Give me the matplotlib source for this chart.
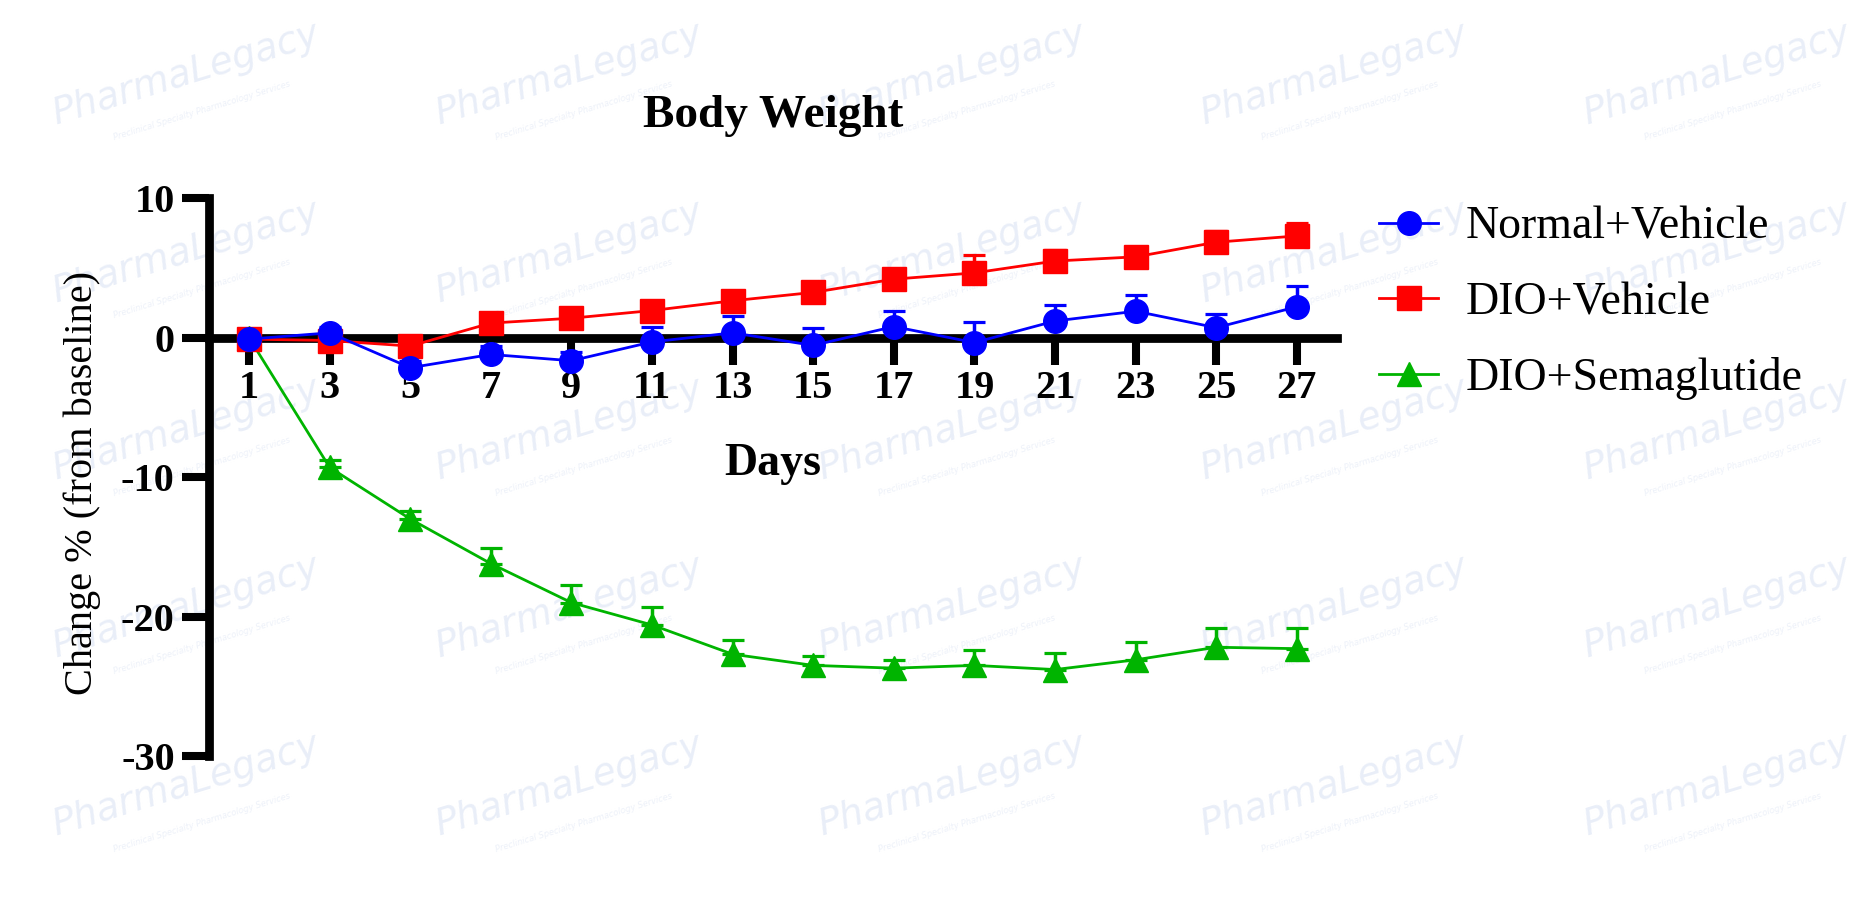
import numpy as np
import matplotlib
matplotlib.use("Agg")
import matplotlib.pyplot as plt
from matplotlib.lines import Line2D

plt.rcParams['font.family'] = ['Liberation Serif', 'DejaVu Serif']
plt.rcParams['axes.unicode_minus'] = False

days = [1, 3, 5, 7, 9, 11, 13, 15, 17, 19, 21, 23, 25, 27]

normal_mean = [-0.1, 0.35, -2.15, -1.2, -1.65, -0.3, 0.35, -0.55, 0.8, -0.35, 1.2, 1.9, 0.72, 2.22]
normal_sem = [0.3, 0.4, 0.5, 0.6, 0.6, 1.1, 1.2, 1.25, 1.1, 1.5, 1.15, 1.15, 1.0, 1.5]

dio_mean = [-0.1, -0.2, -0.6, 1.05, 1.4, 1.95, 2.65, 3.25, 4.2, 4.65, 5.5, 5.8, 6.85, 7.3]
dio_sem = [0.3, 0.3, 0.4, 0.5, 0.5, 0.6, 0.6, 0.6, 0.7, 1.25, 0.8, 0.7, 0.8, 0.9]

sema_mean = [0.0, -9.3, -13.0, -16.2, -19.0, -20.6, -22.7, -23.5, -23.7, -23.5, -23.8, -23.1, -22.2, -22.3]
sema_sem = [0.2, 0.5, 0.6, 1.1, 1.3, 1.3, 1.0, 0.7, 0.6, 1.1, 1.2, 1.3, 1.4, 1.5]

labels = ['Normal+Vehicle', 'DIO+Vehicle', 'DIO+Semaglutide']
colors = ['#0000ff', '#ff0000', '#00b400']
markers = ['o', 's', '^']

fig = plt.figure(figsize=(18.67, 9.24), dpi=100)

# faint watermark grid like the source image
for cx in np.linspace(0.10, 0.92, 5):
    for cy in np.linspace(0.92, 0.15, 5):
        fig.text(cx, cy, 'PharmaLegacy', fontsize=27, style='italic',
                 family='DejaVu Sans', color='#e9eef8', rotation=17,
                 ha='center', va='center', zorder=-5)
        fig.text(cx + 0.008, cy - 0.04, 'Preclinical Specialty Pharmacology Services',
                 fontsize=6, style='italic', family='DejaVu Sans', color='#edf1f9',
                 rotation=17, ha='center', va='center', zorder=-5)

ax = fig.add_axes([0.1118, 0.1818, 0.6044, 0.6036])
ax.patch.set_alpha(0)

series = [(normal_mean, normal_sem), (dio_mean, dio_sem), (sema_mean, sema_sem)]
for i in [2, 1, 0]:
    m, s = series[i]
    ax.errorbar(days, m, yerr=[np.zeros(len(s)), s], color=colors[i],
                marker=markers[i], markersize=17, linewidth=2.0,
                elinewidth=2.5, capsize=8, capthick=2.3,
                zorder=3 + (2 - i), clip_on=False)

handles = [Line2D([], [], color=colors[i], marker=markers[i], markersize=17,
                  linewidth=2.0) for i in range(3)]

ax.set_xlim(0, 28)
ax.set_ylim(-30, 10)
ax.set_xticks(days)
ax.set_yticks([-30, -20, -10, 0, 10])

for side in ['top', 'right']:
    ax.spines[side].set_visible(False)
ax.spines['bottom'].set_position(('data', 0))
ax.spines['bottom'].set_linewidth(6.3)
ax.spines['left'].set_linewidth(6.3)
ax.spines['bottom'].set_zorder(2)

ax.tick_params(axis='x', length=19.5, width=5.8, pad=4, labelsize=29)
ax.tick_params(axis='y', length=19.5, width=5.8, pad=5, labelsize=29)
for lab in ax.get_xticklabels() + ax.get_yticklabels():
    lab.set_fontweight('bold')

ax.text(0.5, 0.504, 'Days', transform=ax.transAxes, ha='center', va='baseline',
        fontsize=33, fontweight='bold')
ax.text(0.5, 1.128, 'Body Weight', transform=ax.transAxes, ha='center', va='baseline',
        fontsize=34, fontweight='bold')
ax.text(-0.1123, 0.4895, 'Change % (from baseline)', transform=ax.transAxes,
        rotation=90, ha='center', va='center', fontsize=29)

fig.legend(handles, labels, loc='upper left', bbox_to_anchor=(0.7385, 0.777),
           bbox_transform=fig.transFigure, frameon=False, fontsize=33,
           borderpad=0, borderaxespad=0, handlelength=1.3, handletextpad=0.6,
           labelspacing=0.72)

fig.savefig('out.png', dpi=100)
